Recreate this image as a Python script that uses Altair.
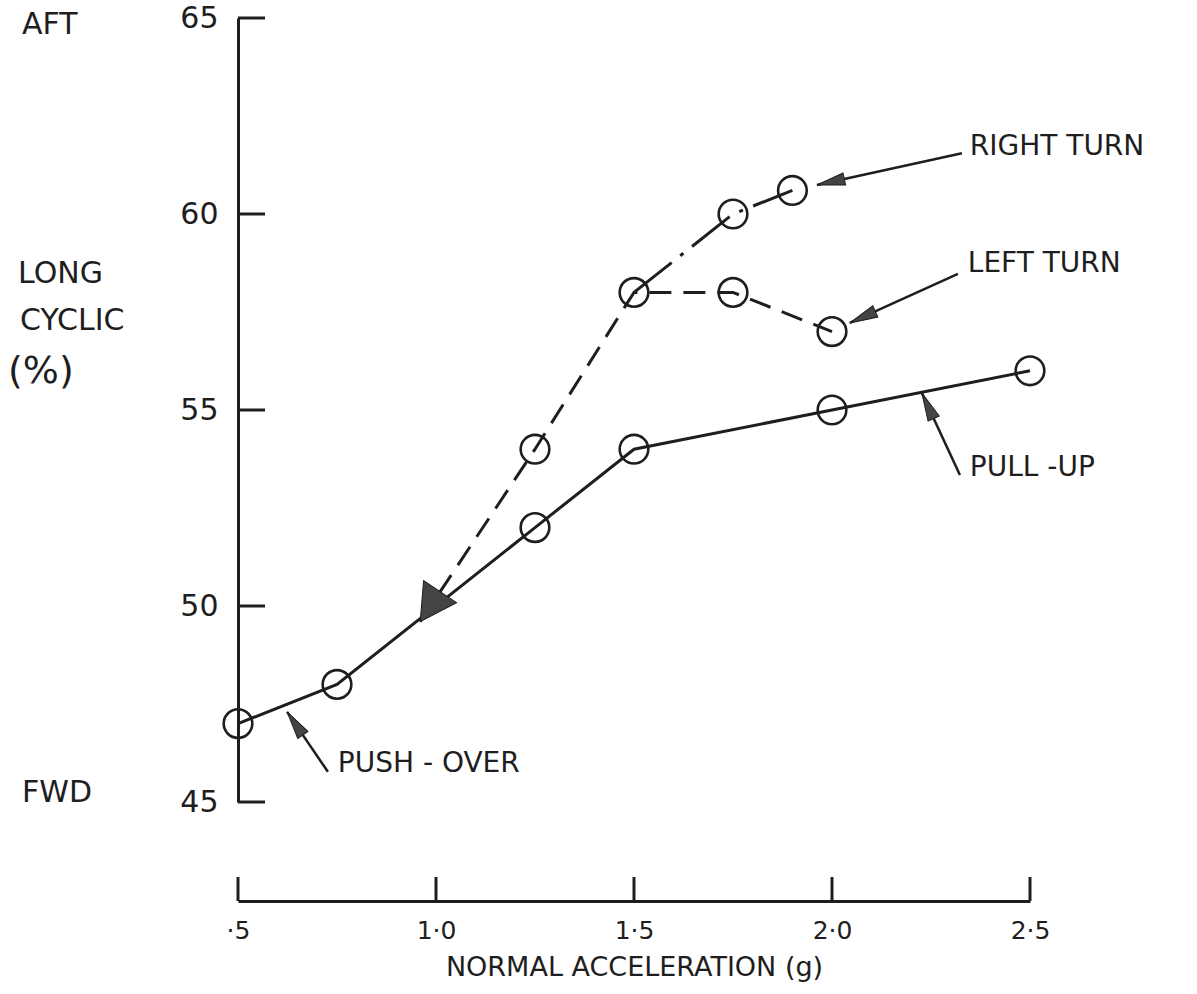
import math
import altair as alt
import pandas as pd

# ---------------- data ----------------
pull_x = [0.5, 0.75, 1.25, 1.5, 2.0, 2.5]
pull_y = [47.0, 48.0, 52.0, 54.0, 55.0, 56.0]

left_x = [1.25, 1.5, 1.75, 2.0]
left_y = [54.0, 58.0, 58.0, 57.0]

right_x = [1.5, 1.75, 1.9]
right_y = [58.0, 60.0, 60.6]

# dashed lead-in from the turn data to the common arrowhead
lead_x = [0.96, 1.25]
lead_y = [49.6, 54.0]

x_ticks = [0.5, 1.0, 1.5, 2.0, 2.5]
y_ticks = [45, 50, 55, 60, 65]

# annotation arrows: tail -> tip (data units)
arrow_names = ["RIGHT TURN", "LEFT TURN", "PULL -UP", "PUSH - OVER"]
arrow_tail_x = [2.328, 2.318, 2.323, 0.727]
arrow_tail_y = [61.55, 58.47, 53.34, 45.77]
arrow_tip_x = [1.962, 2.045, 2.227, 0.624]
arrow_tip_y = [60.74, 57.22, 55.43, 47.30]
label_x = [2.348, 2.343, 2.348, 0.752]
label_y = [61.70, 58.72, 53.52, 45.97]

side_labels = ["AFT", "LONG", "CYCLIC", "(%)", "FWD"]

# ---------------- layout ----------------
W, H = 792, 784
XMIN, XMAX = 0.5, 2.5
YMIN, YMAX = 45, 65
kx = W / (XMAX - XMIN)
ky = H / (YMAX - YMIN)
INK = "#1e1e1e"
FONT = "DejaVu Sans"

xs = alt.Scale(domain=[XMIN, XMAX], nice=False, zero=False)
ys = alt.Scale(domain=[YMIN, YMAX], nice=False, zero=False)

x_axis = alt.Axis(
    values=x_ticks, offset=99, ticks=False, tickSize=0, grid=False,
    domainWidth=3, domainColor=INK, labelFontSize=25, labelPadding=17,
    labelColor=INK, labelFont=FONT, labelFlush=False,
    labelExpr="datum.value == 0.5 ? '\u00b75' : replace(format(datum.value, '.1f'), '.', '\u00b7')",
    title="NORMAL ACCELERATION (g)", titleFontSize=27, titleFontWeight="normal",
    titleFont=FONT, titleColor=INK, titlePadding=11,
)
y_axis = alt.Axis(
    values=y_ticks, ticks=False, tickSize=0, grid=False, domainWidth=3,
    domainColor=INK, labelFontSize=30, labelPadding=20, labelColor=INK,
    labelFont=FONT, labelFlush=False, title=None,
)

X = alt.X("x:Q", scale=xs, axis=x_axis)
Y = alt.Y("y:Q", scale=ys, axis=y_axis)


def angle_of(x0, y0, x1, y1):
    dx = (x1 - x0) * kx
    dy = -(y1 - y0) * ky
    return math.degrees(math.atan2(dx, -dy)) % 360


# tables
pull_df = pd.DataFrame({"x": pull_x, "y": pull_y, "i": range(len(pull_x))})
left_df = pd.DataFrame({"x": lead_x + left_x, "y": lead_y + left_y,
                        "i": range(len(lead_x) + len(left_x))})
right_df = pd.DataFrame({"x": right_x, "y": right_y, "i": range(len(right_x))})

pts = {}
for xx, yy in list(zip(pull_x, pull_y)) + list(zip(left_x, left_y)) + list(zip(right_x, right_y)):
    pts[(xx, yy)] = 1
circ_df = pd.DataFrame({"x": [p[0] for p in pts], "y": [p[1] for p in pts]})

arrow_rows = []
head_rows = []
for n, tx, ty, px, py in zip(arrow_names, arrow_tail_x, arrow_tail_y, arrow_tip_x, arrow_tip_y):
    arrow_rows.append({"name": n, "x": tx, "y": ty, "i": 0})
    arrow_rows.append({"name": n, "x": px, "y": py, "i": 1})
    head_rows.append({"x": px, "y": py, "ang": angle_of(tx, ty, px, py)})
arrow_df = pd.DataFrame(arrow_rows)
head_df = pd.DataFrame(head_rows)

big_head_df = pd.DataFrame({
    "x": [lead_x[0]], "y": [lead_y[0]],
    "ang": [angle_of(lead_x[1], lead_y[1], lead_x[0], lead_y[0])],
})

label_df = pd.DataFrame({"x": label_x, "y": label_y, "t": arrow_names})
xt_df = pd.DataFrame({"x": x_ticks})
yt_df = pd.DataFrame({"y": y_ticks})

# ---------------- layers ----------------
circles = alt.Chart(circ_df).mark_point(
    shape="circle", filled=False, size=820, strokeWidth=2.6, color=INK, opacity=1
).encode(x=X, y=Y)

pull_line = alt.Chart(pull_df).mark_line(color=INK, strokeWidth=3).encode(
    x=X, y=Y, order="i:Q")
left_line = alt.Chart(left_df).mark_line(color=INK, strokeWidth=3, strokeDash=[22, 12]).encode(
    x=X, y=Y, order="i:Q")
right_line = alt.Chart(right_df).mark_line(color=INK, strokeWidth=3, strokeDash=[48, 11, 4, 11]).encode(
    x=X, y=Y, order="i:Q")

y_tick_rules = alt.Chart(yt_df).mark_rule(color=INK, strokeWidth=3).encode(
    y=Y, x=alt.value(0), x2=alt.value(27))
x_tick_rules = alt.Chart(xt_df).mark_rule(color=INK, strokeWidth=3).encode(
    x=X, y=alt.value(H + 75), y2=alt.value(H + 99))

arrow_lines = alt.Chart(arrow_df).mark_line(color=INK, strokeWidth=2.5).encode(
    x=X, y=Y, detail="name:N", order="i:Q")
arrow_heads = alt.Chart(head_df).mark_point(
    shape="M0,0L0.22,1L-0.22,1Z", filled=True, size=3136, color="#444", opacity=1,
    strokeWidth=1, stroke=INK
).encode(x=X, y=Y, angle=alt.Angle("ang:Q", scale=None))
big_head = alt.Chart(big_head_df).mark_point(
    shape="M0,0L0.55,1L-0.55,1Z", filled=True, size=5184, color="#444", opacity=1,
    strokeWidth=1, stroke=INK
).encode(x=X, y=Y, angle=alt.Angle("ang:Q", scale=None))

labels = alt.Chart(label_df).mark_text(
    align="left", baseline="middle", font=FONT, fontSize=28, color=INK
).encode(x=X, y=Y, text="t:N")

side_pos_x = [-216, -220, -218, -230, -216]
side_pos_y = [7, 256, 303, 354, 775]
side_sizes = [30, 30, 30, 38, 30]
side_layers = []
for t, sx, sy, fs in zip(side_labels, side_pos_x, side_pos_y, side_sizes):
    side_layers.append(
        alt.Chart(pd.DataFrame({"t": [t]})).mark_text(
            align="left", baseline="middle", font=FONT, fontSize=fs, color=INK
        ).encode(x=alt.value(sx), y=alt.value(sy), text="t:N")
    )

chart = alt.layer(
    pull_line, left_line, right_line, circles, y_tick_rules, x_tick_rules,
    arrow_lines, arrow_heads, big_head, labels, *side_layers
).properties(
    width=W, height=H,
    padding={"left": 238, "top": 18, "right": 1197 - 238 - W, "bottom": 994 - 18 - H},
    autosize=alt.AutoSizeParams(type="none"),
    background="white",
).configure_view(stroke=None)

chart.save("out.html", embed_options={"renderer": "svg", "actions": False})
